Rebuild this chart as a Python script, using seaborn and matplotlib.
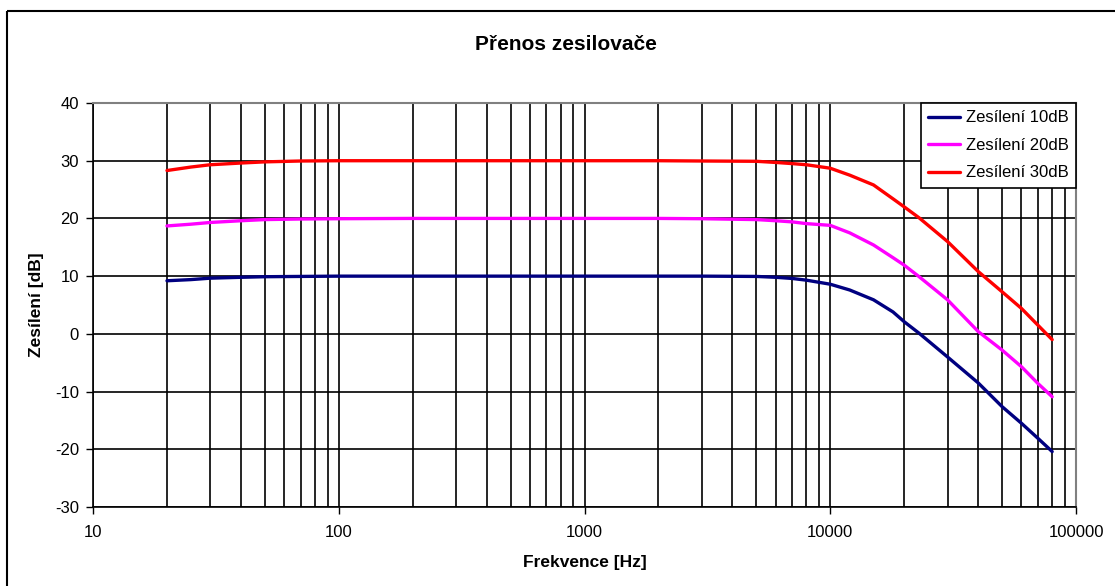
import numpy as np
import pandas as pd
import matplotlib
matplotlib.use("Agg")
import matplotlib.pyplot as plt
import seaborn as sns
from matplotlib.patches import Rectangle
from matplotlib.ticker import FixedLocator, NullFormatter, FixedFormatter

freq = [20, 25, 30, 40, 50, 70, 100, 200, 500, 1000, 2000, 3000, 5000, 6000,
        7000, 8000, 10000, 12000, 15000, 18000, 20000, 23000, 30000, 40000,
        50000, 60000, 70000, 80000]
gain_10 = [9.2, 9.4, 9.65, 9.8, 9.9, 9.95, 10.0, 10.0, 10.0, 10.0, 10.0, 10.0, 9.95, 9.8,
           9.6, 9.3, 8.6, 7.6, 5.9, 3.8, 2.1, 0.1, -4.0, -8.5,
           -12.6, -15.5, -18.1, -20.4]
gain_20 = [18.7, 19.0, 19.3, 19.6, 19.8, 19.9, 19.95, 20.0, 20.0, 20.0, 20.0, 19.95, 19.8, 19.6,
           19.4, 19.1, 18.8, 17.5, 15.4, 13.2, 11.9, 9.9, 5.9, 0.4,
           -2.8, -5.7, -8.6, -10.9]
gain_30 = [28.3, 28.9, 29.3, 29.6, 29.8, 29.95, 30.0, 30.0, 30.0, 30.0, 30.0, 29.95, 29.9, 29.7,
           29.5, 29.3, 28.7, 27.5, 25.8, 23.4, 22.0, 20.1, 16.0, 10.8,
           7.3, 4.4, 1.5, -1.0]
series_names = ["Zesílení 10dB", "Zesílení 20dB", "Zesílení 30dB"]
series_colors = ["#000080", "#FF00FF", "#FF0000"]
x_ticks = [10, 100, 1000, 10000, 100000]
x_tick_labels = ["10", "100", "1000", "10000", "100000"]
y_ticks = [-30, -20, -10, 0, 10, 20, 30, 40]

title = "Přenos zesilovače"
x_label = "Frekvence [Hz]"
y_label = "Zesílení [dB]"

df = pd.DataFrame({
    "f": freq * 3,
    "g": gain_10 + gain_20 + gain_30,
    "s": [series_names[0]] * len(freq) + [series_names[1]] * len(freq) + [series_names[2]] * len(freq),
})

sns.set_style("white")
plt.rcParams['font.family'] = ['Liberation Sans', 'DejaVu Sans']
plt.rcParams['text.color'] = 'black'
plt.rcParams['axes.labelcolor'] = 'black'
plt.rcParams['xtick.color'] = 'black'
plt.rcParams['ytick.color'] = 'black'

W, H = 1115, 586
fig = plt.figure(figsize=(W / 100, H / 100), dpi=100)
ax = fig.add_axes([93 / W, 1 - 507 / H, (1076 - 93) / W, (507 - 103) / H])

sns.lineplot(data=df, x="f", y="g", hue="s", palette=series_colors, ax=ax,
             linewidth=2.4, legend=True, zorder=3)

ax.set_xscale("log")
ax.set_xlim(10, 100000)
ax.set_ylim(-30, 40)

minor = [m * 10 ** e for e in range(1, 5) for m in range(2, 10)]
ax.xaxis.set_major_locator(FixedLocator(x_ticks))
ax.xaxis.set_major_formatter(FixedFormatter(x_tick_labels))
ax.xaxis.set_minor_locator(FixedLocator(minor))
ax.xaxis.set_minor_formatter(NullFormatter())
ax.set_yticks(y_ticks)
ax.set_yticklabels([str(v) for v in y_ticks])

ax.grid(True, which="both", axis="x", color="black", linewidth=1.2, zorder=1)
ax.grid(True, which="major", axis="y", color="black", linewidth=1.2, zorder=1)
ax.set_axisbelow(True)

ax.tick_params(axis="x", which="major", direction="out", length=5, width=1, color="black",
               labelsize=12, pad=8, bottom=True, labelcolor="black")
ax.tick_params(axis="x", which="minor", length=0)
ax.tick_params(axis="y", direction="out", length=5, width=1, color="black",
               labelsize=12, pad=5, left=True, labelcolor="black")

for side in ["left", "bottom"]:
    ax.spines[side].set_color("black")
    ax.spines[side].set_linewidth(1.2)
for side in ["top", "right"]:
    ax.spines[side].set_color("#808080")
    ax.spines[side].set_linewidth(1.5)

ax.set_xlabel(x_label, fontsize=12.5, fontweight="bold", labelpad=11, color="black")
ax.set_ylabel(y_label, fontsize=12.5, fontweight="bold", labelpad=8, color="black")
fig.text(566 / W, 1 - 44 / H, title, fontsize=15, fontweight="bold",
         ha="center", va="center", color="black")

leg = ax.legend(loc="upper right", borderaxespad=0, fontsize=12, frameon=True,
                fancybox=False, handlelength=1.9, handletextpad=0.35,
                labelspacing=0.75, borderpad=0.45)
leg.get_frame().set_edgecolor("black")
leg.get_frame().set_linewidth(1.2)
leg.get_frame().set_alpha(1)
for text in leg.get_texts():
    text.set_color("black")
for line in leg.get_lines():
    line.set_linewidth(2.4)

rect = Rectangle((7 / W, 1 - 11 / H), 1.2, -1.2, transform=fig.transFigure,
                 fill=False, edgecolor="black", linewidth=1.5, clip_on=False)
fig.add_artist(rect)

fig.savefig("out.png", dpi=100)
